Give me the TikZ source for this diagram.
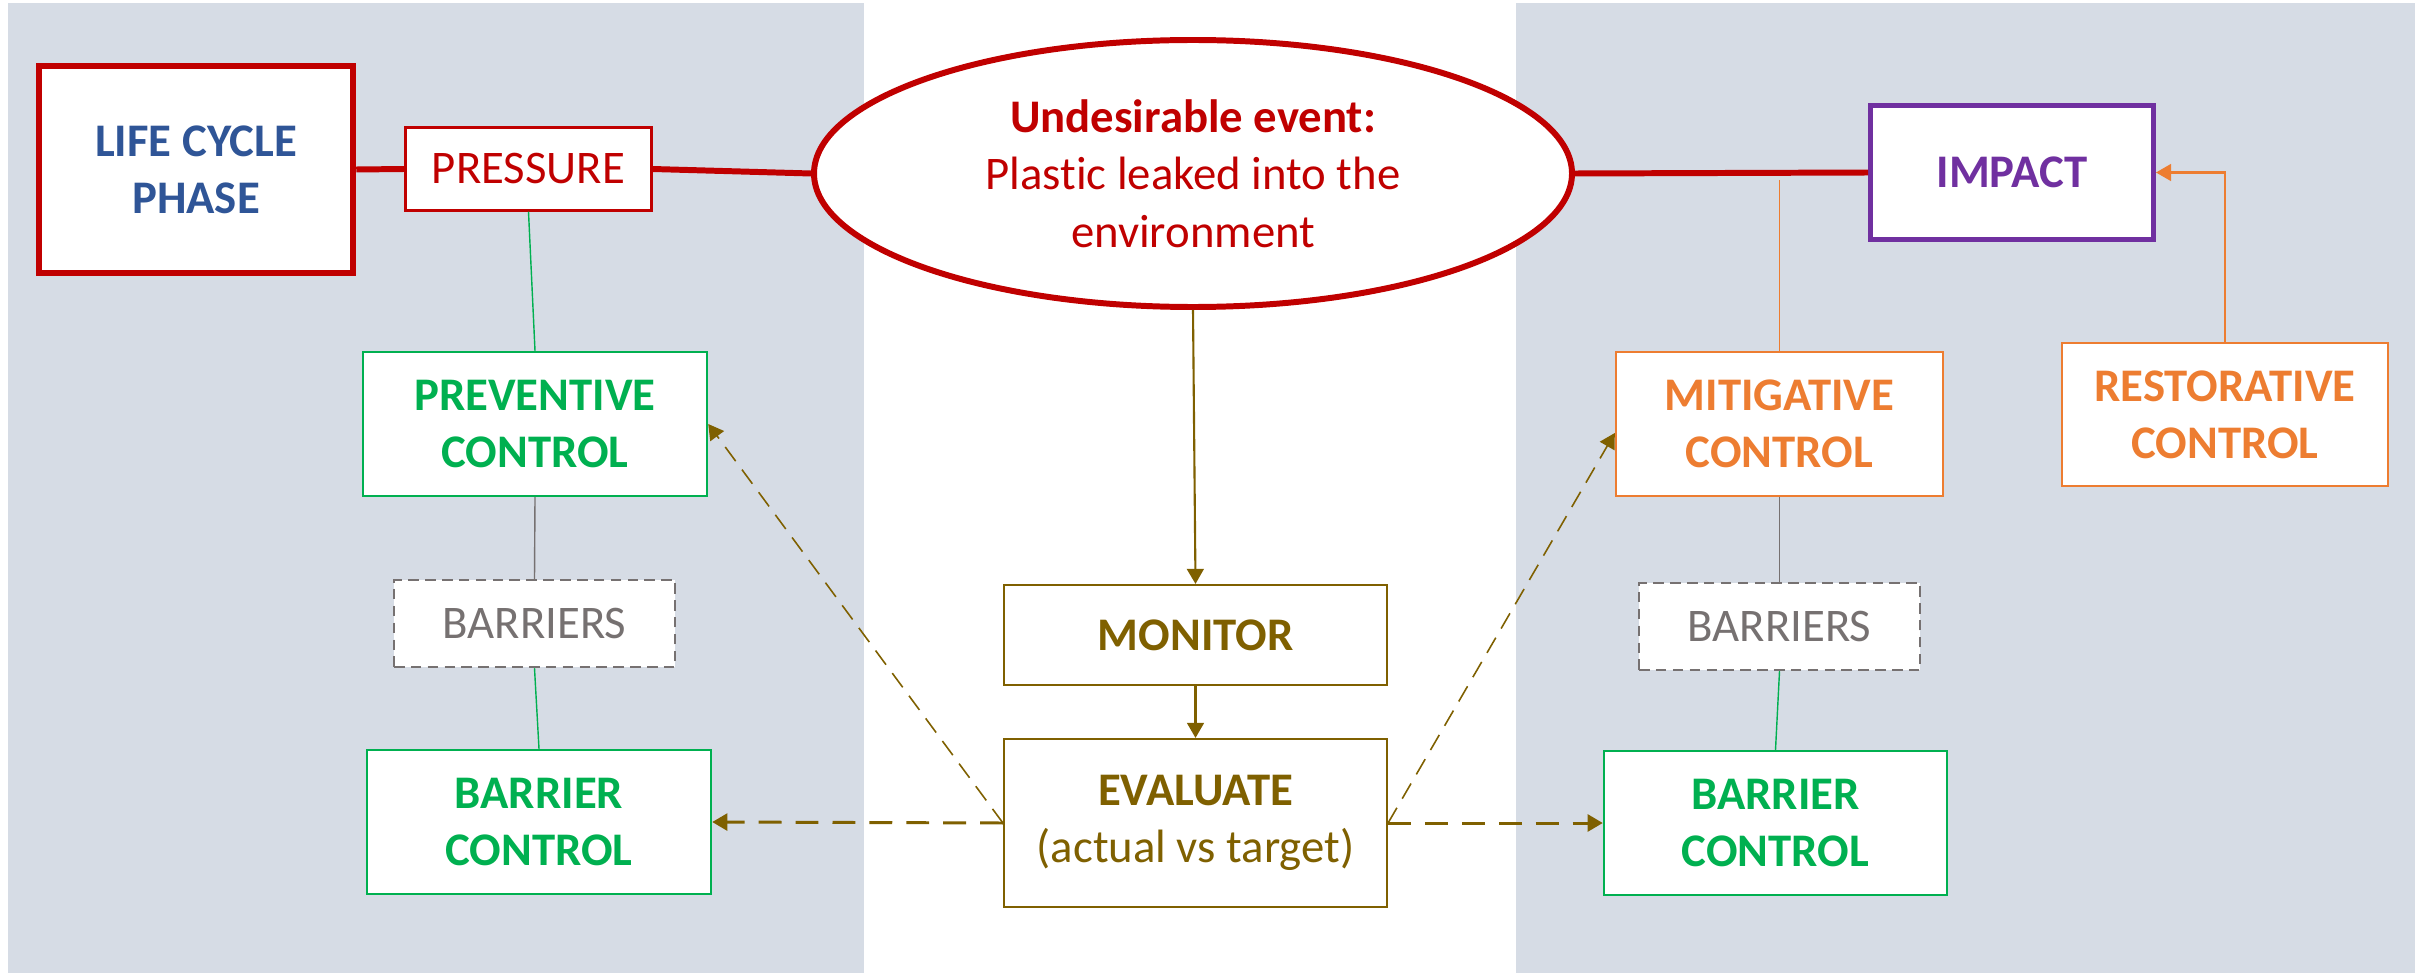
\documentclass[tikz,border=0pt]{standalone}
\usepackage{fontspec}
\setmainfont{Carlito}[Ligatures=NoCommon]
\usetikzlibrary{arrows.meta,shapes.geometric}

\definecolor{panelgray}{HTML}{D6DCE5}
\definecolor{evred}{HTML}{C00000}
\definecolor{lcblue}{HTML}{2F5597}
\definecolor{ctrlgreen}{HTML}{00B050}
\definecolor{mitorange}{HTML}{ED7D31}
\definecolor{imppurple}{HTML}{7030A0}
\definecolor{monbrown}{HTML}{7F6000}
\definecolor{bargray}{HTML}{767171}

\newcommand{\bowtiefont}{\fontsize{13.3}{16.3}\selectfont}

\tikzset{
  box/.style={draw, fill=white, align=center, inner sep=0pt, font=\bowtiefont},
  bbox/.style={box, font=\bowtiefont\bfseries},
  ctrlbox/.style={bbox, draw=ctrlgreen, text=ctrlgreen, line width=0.7pt, minimum width=3.44cm, minimum height=1.44cm},
  mitbox/.style={bbox, draw=mitorange, text=mitorange, line width=0.7pt, minimum width=3.27cm, minimum height=1.44cm},
  barbox/.style={box, draw=bargray, text=bargray, line width=0.7pt, dash pattern=on 3pt off 1.8pt, minimum width=2.81cm, minimum height=0.87cm},
  monbox/.style={box, draw=monbrown, text=monbrown, line width=0.6pt, minimum width=3.83cm},
  redline/.style={draw=evred, line width=1.7pt},
  thinline/.style={line width=0.4pt},
  tip/.style={-{Triangle[length=4.3pt,width=4.8pt]}},
  hdash/.style={tip, draw=monbrown, line width=0.85pt, dash pattern=on 6.5pt off 4pt},
  ddash/.style={tip, draw=monbrown, line width=0.45pt, dash pattern=on 5pt off 3pt}
}

\begin{document}
\begin{tikzpicture}
  %%%%% START %%%%%
  \useasboundingbox (0,0) rectangle (24.28,-9.73);

  % side panels
  \fill[panelgray] (0.08,-0.03) rectangle (8.64,-9.73);
  \fill[panelgray] (15.16,-0.03) rectangle (24.15,-9.73);

  % top row
  \node[bbox, draw=evred, text=lcblue, line width=1.85pt, minimum width=3.14cm, minimum height=2.07cm] (life) at (1.96,-1.695) {LIFE CYCLE\\PHASE};
  \node[box, draw=evred, text=evred, line width=0.7pt, minimum width=2.46cm, minimum height=0.83cm] (press) at (5.285,-1.69) {PRESSURE};
  \node[box, ellipse, draw=evred, text=evred, line width=1.7pt, minimum width=7.58cm, minimum height=2.67cm] (ue) at (11.93,-1.735) {{\bfseries Undesirable event:}\\Plastic leaked into the\\environment};
  \node[bbox, draw=imppurple, text=imppurple, line width=1.4pt, minimum width=2.83cm, minimum height=1.34cm] (impact) at (20.12,-1.725) {IMPACT};

  % left side
  \node[ctrlbox] (prev) at (5.35,-4.24) {PREVENTIVE\\CONTROL};
  \node[barbox] (barL) at (5.345,-6.235) {BARRIERS};
  \node[ctrlbox] (bcL) at (5.39,-8.22) {BARRIER\\CONTROL};

  % middle
  \node[monbox, font=\bowtiefont\bfseries, minimum height=1.0cm] (mon) at (11.955,-6.35) {MONITOR};
  \node[monbox, minimum height=1.68cm] (eval) at (11.955,-8.23) {{\bfseries EVALUATE}\\(actual vs target)};

  % right side
  \node[mitbox] (mit) at (17.795,-4.24) {MITIGATIVE\\CONTROL};
  \node[mitbox, minimum width=3.26cm, minimum height=1.43cm] (rest) at (22.25,-4.145) {RESTORATIVE\\CONTROL};
  \node[barbox] (barR) at (17.795,-6.265) {BARRIERS};
  \node[ctrlbox, minimum width=3.43cm] (bcR) at (17.755,-8.23) {BARRIER\\CONTROL};
  \coordinate (tap) at (17.795,-1.80);

  % event line
  \draw[redline] (life.east) -- (press.west);
  \draw[redline] (press.east) -- (ue.west);
  \draw[redline] (ue.east) -- (impact.west);

  % barrier chains
  \draw[thinline, ctrlgreen] (press.south) -- (prev.north);
  \draw[thinline, bargray] (prev.south) -- (barL.north);
  \draw[thinline, ctrlgreen] (barL.south) -- (bcL.north);
  \draw[thinline, mitorange] (tap) -- (mit.north);
  \draw[thinline, bargray] (mit.south) -- (barR.north);
  \draw[thinline, ctrlgreen] (barR.south) -- (bcR.north);
  \draw[thinline, mitorange, line width=0.6pt, tip] (rest.north) |- (impact.east);

  % monitoring loop
  \draw[thinline, monbrown, line width=0.6pt, tip] (ue.south) -- (mon.north);
  \draw[thinline, monbrown, line width=0.6pt, tip] (mon.south) -- (eval.north);
  \draw[hdash] (eval.west) -- (bcL.east);
  \draw[hdash] (eval.east) -- (bcR.west);
  \draw[ddash] (eval.west) -- (prev.east);
  \draw[ddash] (eval.east) -- ([yshift=-0.9mm]mit.west);
  %%%%% END %%%%%
\end{tikzpicture}
\end{document}
